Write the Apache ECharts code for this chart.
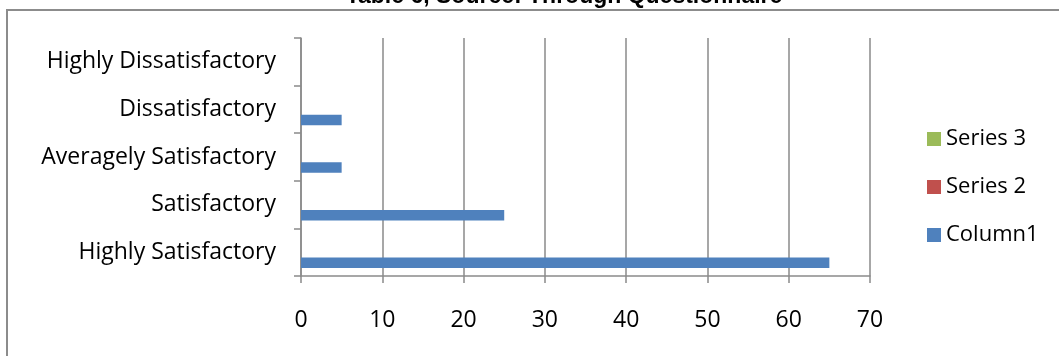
<!DOCTYPE html>
<html>
<head>
<meta charset="utf-8">
<script src="https://cdn.jsdelivr.net/npm/echarts@6/dist/echarts.min.js"></script>
<style>
html,body{margin:0;padding:0;background:#fff;}
#chart{width:1059px;height:356px;}
</style>
</head>
<body>
<div id="chart"></div>
<script>
const titleText = 'Table 6, Source: Through Questionnaire';
const categories = ['Highly Satisfactory', 'Satisfactory', 'Averagely Satisfactory', 'Dissatisfactory', 'Highly Dissatisfactory'];
const column1 = [65, 25, 5, 5, 0];
const series2 = [null, null, null, null, null];
const series3 = [null, null, null, null, null];
const xTicks = [0, 10, 20, 30, 40, 50, 60, 70];
const legendOrder = ['Series 3', 'Series 2', 'Column1'];

const FONT = '"Open Sans", "Noto Sans", sans-serif';
const GRID = '#8a8a8a';

const chart = echarts.init(document.getElementById('chart'), null, {renderer: 'canvas'});
chart.setOption({
  animation: false,
  backgroundColor: '#fff',
  graphic: [
    {type: 'rect', shape: {x: 7, y: 10, width: 1200, height: 500},
     style: {fill: 'none', stroke: '#8c8c8c', lineWidth: 2}, z: 0, silent: true},
    {type: 'text', x: 564, y: -3,
     style: {text: titleText, font: 'bold 23px "Liberation Sans", Arial, sans-serif',
             fill: '#000', align: 'center', verticalAlign: 'middle'}, z: 10, silent: true}
  ],
  grid: {left: 301, right: 189, top: 38, bottom: 80, containLabel: false},
  legend: {
    orient: 'vertical', left: 922, top: 122, padding: 5,
    itemWidth: 14, itemHeight: 14, itemGap: 24,
    icon: 'rect',
    data: legendOrder,
    textStyle: {fontFamily: FONT, fontSize: 22, color: '#000', lineHeight: 24}
  },
  xAxis: {
    type: 'value', min: xTicks[0], max: xTicks[xTicks.length - 1], interval: 10,
    axisLine: {show: true, lineStyle: {color: GRID, width: 1.5}},
    axisTick: {show: true, length: 7, lineStyle: {color: GRID, width: 1.5}},
    splitLine: {show: true, lineStyle: {color: GRID, width: 1.5}},
    axisLabel: {margin: 33, fontFamily: FONT, fontSize: 23, color: '#000'}
  },
  yAxis: {
    type: 'category', data: categories,
    axisLine: {show: true, lineStyle: {color: GRID, width: 1.5}},
    axisTick: {show: true, length: 7, lineStyle: {color: GRID, width: 1.5}},
    splitLine: {show: false},
    axisLabel: {margin: 25, fontFamily: FONT, fontSize: 23, color: '#000'}
  },
  series: [
    {name: 'Series 3', type: 'bar', data: series3, itemStyle: {color: '#9BBB59'},
     barGap: '0%', barCategoryGap: '33.3%'},
    {name: 'Series 2', type: 'bar', data: series2, itemStyle: {color: '#C0504D'},
     barGap: '0%', barCategoryGap: '33.3%'},
    {name: 'Column1', type: 'bar', data: column1, itemStyle: {color: '#4F81BD'},
     barGap: '0%', barCategoryGap: '33.3%'}
  ]
});
</script>
</body>
</html>
